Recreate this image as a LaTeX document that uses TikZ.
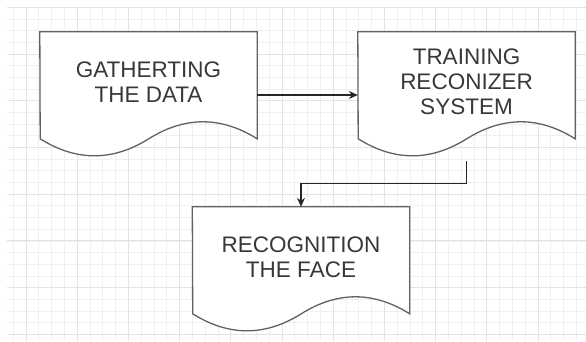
\documentclass[tikz,border=0pt]{standalone}
\usepackage{fontspec}
\setmainfont{Liberation Sans}
\usetikzlibrary{arrows.meta,backgrounds}

\tikzset{
  gridminor/.style={draw=black!6, line width=0.8pt},
  gridmajor/.style={draw=black!11, line width=1pt},
  docbox/.style={minimum width=217pt, minimum height=126pt, inner sep=0pt,
    align=center, text=black!78, font=\fontsize{22.5}{25}\selectfont, text depth=26pt},
  docline/.style={draw=black!62, line width=1.3pt, fill=white},
  flow/.style={draw=black!85, line width=1.1pt, -{Stealth[length=9pt,width=8pt]}},
}

\begin{document}
\begin{tikzpicture}[x=1pt,y=-1pt]
\useasboundingbox (0,0) rectangle (586,341);

\node[docbox] (gather) at (148.5,95) {GATHERTING\\THE DATA};
\node[docbox] (train) at (466.5,95) {TRAINING\\RECONIZER\\SYSTEM};
\node[docbox] (recog) at (301,270) {RECOGNITION\\THE FACE};

\begin{pgfonlayer}{background}
% grid
\foreach \i in {0,...,44} \draw[gridminor] (13.2+12.8*\i,7.5) -- (13.2+12.8*\i,341);
\foreach \j in {0,...,28} \draw[gridminor] (7,7.5+11.67*\j) -- (586,7.5+11.67*\j);
\foreach \i in {0,...,10} \draw[gridmajor] (26+51.2*\i,7.5) -- (26+51.2*\i,341);
\foreach \j in {0,...,7} \draw[gridmajor] (7,7.5+46.68*\j) -- (586,7.5+46.68*\j);
% document outlines
\foreach \n in {gather,train,recog}
  \draw[docline] (\n.north west) -- (\n.north east) -- ++(0,107)
    .. controls +(-36.17,-22.67) and +(36.17,-22.67) .. ++(-108.5,0)
    .. controls +(-36.17,22.67) and +(36.17,22.67) .. ++(-108.5,0) -- cycle;
\end{pgfonlayer}

\draw[flow] (gather.east) -- (train.west);
\coordinate (trainout) at ([yshift=-3pt]train.south);
\draw[flow] (trainout) -- ++(0,22) -| (recog.north);
\end{tikzpicture}
\end{document}
